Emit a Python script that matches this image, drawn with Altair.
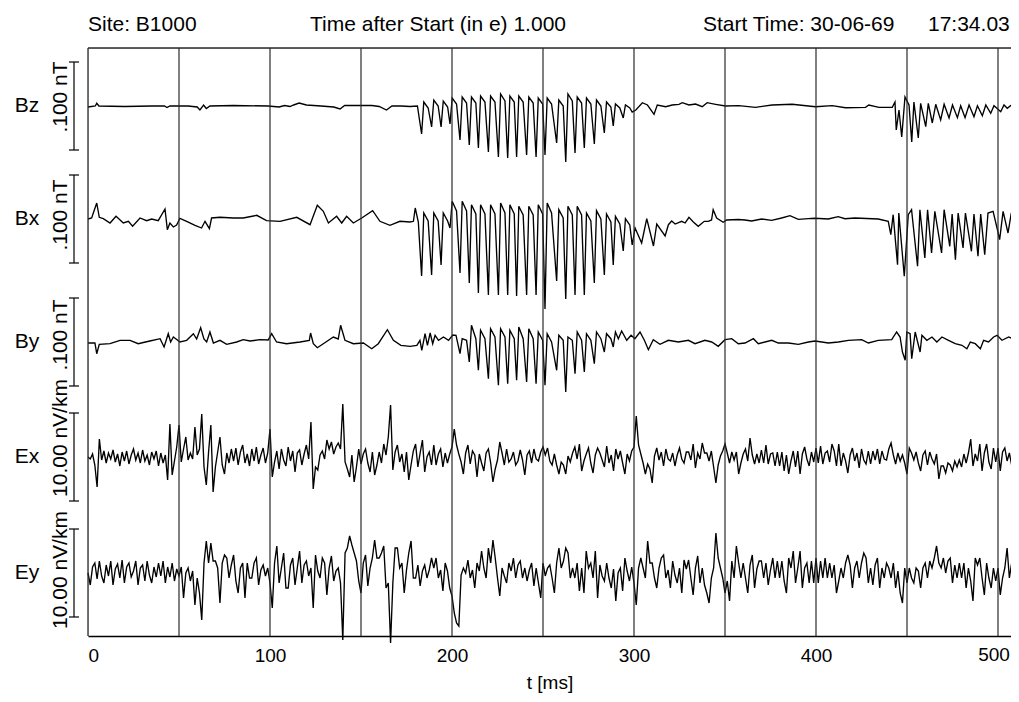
import altair as alt
import pandas as pd

# ---------------- text content ----------------
header_texts = ["Site: B1000", "Time after Start (in e) 1.000", "Start Time: 30-06-69", "17:34.03"]
channels = ["Bz", "Bx", "By", "Ex", "Ey"]
scale_texts = [".100 nT", ".100 nT", ".100 nT", "10.00 nV/km", "10.00 nV/km"]
x_title = "t [ms]"
tick_t = [0, 100, 200, 300, 400, 500]
grid_t = [50, 100, 150, 200, 250, 300, 350, 400, 450, 500]

# ---------------- magnetic channels: (t [ms], deflection) ----------------
bz = [(0,-1),(4,0),(4.8,2.7),(6,0),(20,-0.5),(35,0),(42,0),(43.4,-1.5),(45,0),(55,0),(60,-1),(61.5,-4),(63.5,1),
      (65,-2.5),(67,0),(80,0.5),(99,0),(105,-1),(108,0.5),(111,-0.5),(113,1),(116,3),(120,1),(128,0),(135,-1),
      (138.5,-3),(141,0.5),(150,0.5),(156,0.5),(160,-0.5),(164,-4),(167,0),(172,0),(177,-0.5),(181,0),
      (183.3,-28),(184.5,4),(186.9,-2),(188.8,-21),(190,6),(192.4,0),(194,-21),(195.2,5),(197.6,-1),
      (198.9,-18),(200.1,8),(202.5,2),(204.4,-34),(205.6,9),(208,3),(209.5,-39),(210.7,9),(213.1,3),
      (214.5,-42),(215.7,10),(218.1,4),(220,-46),(221.2,10),(223.6,4),(225.5,-51),(226.7,12),(229.1,5),
      (230.6,-52),(231.8,10),(234.2,4),(235.5,-51),(236.7,10),(239.1,4),(241,-49),(242.2,9),(244.6,3),
      (246.2,-51),(247.4,8),(249.8,2),(251.1,-49),(252.3,8),(254.7,2),(257.5,-37),(258.7,6),(261.1,0),
      (262.5,-56),(263.7,12),(266.1,5),(267.6,-47),(268.8,9),(271.2,3),(272.7,-42),(273.9,8),(276.3,2),
      (278.2,-38),(279.4,6),(281.8,0),(283.7,-27),(284.9,4),(287.3,-1),(288.6,-20),(289.8,2),(292.2,-2),
      (294.1,-12),(295.3,1),(297.7,-2),(299,-6),(301,-4),(304.6,3.3),(307.4,1),(311,-8.3),(312.8,1),
      (317.4,-0.7),(321,1),(324.7,1.7),(326.5,3.3),(330.2,1),(333.8,2),(337.5,-0.7),(340.2,3.3),(344.8,1.7),
      (350.3,0),(357.6,0.3),(366.7,-1.3),(375.9,1),(386.9,1.7),(399.7,-0.7),(408.9,0.3),(416.2,-1.7),
      (427.2,-1.3),(429,1),(434.6,-1.3),(441.9,-1.3),(443.4,4),(444.1,-24),(445.6,-4),(447.1,-31),(448.9,9),
      (451.1,1),(452.6,-36),(453.8,4),(456.2,-32),(457.5,2.7),(460.3,-20.7),(461.7,2.7),(463.9,-17),
      (465.8,1.7),(468.5,-14),(470.4,1.7),(473.1,-12),(475,1),(477.7,-11.7),(479.5,0.3),(481.9,-11.7),
      (484.1,1),(486.8,-10.7),(488.7,0.3),(491.4,-9.7),(493.3,1),(496,-7.3),(497.8,0.3),(501.5,-5.7),
      (503.3,1),(505.1,-2.3),(506.9,0.3),(508.8,1.7),(512,1.7)]

bx = [(0,0),(2,1),(4.8,16),(6.2,1.7),(8.4,0.3),(12.1,-4),(15.4,2.7),(19.4,-4),(22.2,-2.3),(24.5,-7.3),
      (28.6,1),(32.2,-1.7),(35,0),(38.6,-1.7),(42.3,10),(43.6,-10.7),(45,-4),(46.9,-8),(48.7,-6),(50.5,0.7),
      (54.2,-2.3),(58.8,-6.3),(62.4,-9),(64.3,-2.3),(66.7,-9.7),(67.9,1),(72.5,1.7),(79.9,1),(85.3,1),
      (92.7,3.7),(98.1,-1.7),(105.5,-2.3),(114.7,1.7),(122,-5.7),(126,13.7),(129.3,7.7),(132.1,-4),
      (136.6,2.7),(139.4,-4),(142.1,2.7),(145.8,-4),(150.4,1),(156.4,8.3),(160.4,-2.3),(165.9,-6.3),
      (171.4,-2.3),(176.9,-3),(178.8,-2.3),(179.8,11),(181.5,-3),
      (183.3,-57),(184.5,6),(186.9,-2),(188.8,-56),(190,6),(192.4,-2),(194,-46),(195.2,6),(197.6,-2),
      (198.9,-9),(200.1,17.7),(202.5,8),(204.4,-54),(205.6,17.7),(208,8),(209.5,-64),(210.7,14.3),(213.1,5),
      (214.5,-74),(215.7,14.3),(218.1,5),(220,-76),(221.2,14.3),(223.6,5),(225.5,-76),(226.7,16),(229.1,6),
      (230.6,-76),(231.8,14.3),(234.2,5),(235.5,-77),(236.7,12.7),(239.1,4),(241,-76),(242.2,12.7),(244.6,4),
      (246.2,-76),(247.4,14.3),(249.8,5),(251.1,-90),(252.3,16),(254.7,6),(257.5,-62),(258.7,9.3),(261.1,1),
      (262.5,-80),(263.7,12.7),(266.1,4),(267.6,-76),(268.8,12.7),(271.2,4),(272.7,-76),(273.9,6),(276.3,-2),
      (278.2,-64),(279.4,8.3),(281.8,0),(283.7,-56),(284.9,5),(287.3,-3),(288.6,-46),(289.8,2.7),(292.2,-5),
      (294.1,-32),(295.3,0.3),(297.7,-6),(299,-26),(300.6,-9),(304.2,-24),(307,0.3),(310.7,-27),(312.5,-5),
      (317.1,-17),(318.9,-5.7),(320.7,-2),(322.6,-5),(326.2,-2.3),(328.1,-4),(330.2,1.7),(332.6,-3),
      (335.3,-7.3),(338.6,-2.3),(340.8,-2.3),(342.6,-1),(343.5,9.3),(345.4,1),(349,-3.3),(350.9,-1),
      (357.3,-0.5),(361,-1),(364.6,-2),(370.1,0),(375.6,-1.3),(381.1,1),(385.7,3.3),(390.3,-0.3),
      (395.8,0.3),(399.4,0.7),(406.7,0),(412.2,2.3),(415.9,0.3),(421.4,1),(434.2,0),(439.7,-2.3),
      (441.1,-15.7),(442.4,4.3),(444.8,-45.7),(445.5,6),(448.5,-57.3),(450.7,4.3),(452.5,9.3),(455.8,-47.3),
      (457.1,9.3),(459.8,-39),(461.3,9.3),(463.5,-34),(465.3,7.7),(469,-34),(470.4,9.3),(473.5,-27.3),
      (474.8,5),(476.6,-40.7),(478.1,6),(480.8,-29),(482.1,6),(485.4,-32.3),(486.8,5),(489,-37.3),(490.5,5),
      (492.7,-35.7),(494.5,6),(497.3,7.7),(499.6,-10),(500.9,-20.7),(502.8,7.7),(505.5,-14),(507.3,6),
      (510.1,-14),(512,4.3)]

by = [(0,-1),(3.8,-1),(4.8,-11.7),(6.2,-2.3),(12.1,-1.7),(17.6,1.7),(23.1,1.7),(27.6,-1.7),(30.4,-0.5),(34,1),
      (39.6,3.3),(41.8,-5),(44.1,8.3),(45.4,0),(46.9,5),(49.1,2),(50.5,0),(54.2,1.7),(57.9,8.3),(59.7,3),
      (61.9,14.3),(63.7,3),(65.2,0),(67,10),(68.9,-1),(72.5,1.7),(76.2,-2.3),(81.7,0),(85.3,2.3),(89,1),
      (94.5,2.3),(99,2),(100.9,8.3),(103.6,0),(109.1,-1.7),(116.5,0),(121.6,1.7),(122.3,9),(123.8,-1.7),
      (126,-5.7),(129.3,-1.7),(134.8,5),(137.5,3),(138.8,16.7),(141.2,1.7),(145.8,-1.7),(151.3,-1),
      (155.9,-6.7),(159.5,-1.7),(164.5,12.3),(167.8,1.7),(171.9,-3.3),(177,-4.3),(180.7,-3.3),(182.4,1.7),
      (183.4,-8.3),(185.2,8.3),(186.5,-3.3),(188,9),(189.4,-1.7),(190.7,6.7),(192.6,1.7),(195.3,5),
      (198.1,1.7),(200.4,7),(202.2,6.7),(204.4,-11.7),(205.6,3.3),(208,1.7),(209.5,-20),(210.7,16.7),
      (213.1,3.3),(214.5,-28.3),(215.7,11.7),(218.1,3.3),(220,-36.7),(221.2,13.3),(223.6,5),(225.5,-43.3),
      (226.7,13.3),(229.1,5),(230.6,-41.7),(231.8,11.7),(234.2,3.3),(235.5,-38.3),(236.7,15),(239.1,3.3),
      (241,-40),(242.2,13.3),(244.6,3.3),(246.2,-41.7),(247.4,10),(249.8,1.7),(251.1,-43.3),(252.3,8.3),
      (254.7,0),(257.5,-28.3),(258.7,6.7),(261.1,1.7),(262.5,-50),(263.7,5),(266.1,1.7),(267.6,-31.7),
      (268.8,10),(271.2,1.7),(272.7,-30),(273.9,8.3),(276.3,1.7),(278.2,-21.7),(279.4,10),(281.8,3.3),
      (283.7,-10),(284.9,8.3),(287.3,3.3),(288.6,-5),(289.8,10),(291.4,3.3),(293.2,11),(296,1.7),(298.4,6.7),
      (300.5,3.3),(303.3,10),(305.7,1.7),(307.9,-7.7),(310.6,2.3),(314.3,-2.3),(318.9,1.7),(324.4,0),
      (329.9,1.7),(333.5,-1.7),(339,1.7),(342.7,0),(346.3,-4.3),(350,2.3),(353.7,3.3),(357.3,-1.7),(361,-1),
      (365.6,3.3),(368.3,-1.7),(375.7,1.7),(379.3,-1),(384.8,-1),(390.3,-2.3),(395.8,0),(399.5,1),
      (406.8,-1),(412.3,0),(417.8,1.7),(425.1,2.3),(428.8,-1),(434.2,1.7),(441.6,2.3),(444.3,10),(446.2,5),
      (447.5,-10),(449,-18.3),(449.9,10),(451.7,8.3),(452.6,-16.7),(454.5,10),(457.2,-10),(458.2,6.7),
      (460.9,1.7),(463.7,5),(466.4,0),(469.2,5),(472.8,1.7),(476.5,-1.7),(480.2,-3.3),(482.9,-6.7),
      (484.8,0),(487.5,-1.7),(490.3,-6.7),(492.1,1.7),(494.8,0),(497.6,5),(499.5,6.7),(502.2,1.7),
      (505.9,5),(509.6,1.7),(512,1.7)]

# ---------------- electric channels: one row per 10 ms, samples every 1.25 ms ----------------
E_ROW_MS = 10
E_DT = 1.25
ex_rows = [
    [0,-2,3,-8,-30,18,-3,6], [-6,4,-2,7,-5,3,-9,5], [-4,6,-7,2,8,-3,4,-6], [7,-4,2,-8,5,-2,6,-9],
    [4,-6,2,-23,33,-18,-4,10], [32,-5,8,20,-3,4,-2,30], [2,8,43,-10,-28,5,32,-35], [-10,5,20,-8,-17,4,-6,8],
    [-4,9,-8,5,12,-6,3,-9], [8,-4,10,-7,2,9,-6,4], [28,-20,-5,6,-12,8,-3,-9], [10,-4,6,-15,4,7,-8,3],
    [12,-2,35,-32,-10,-13,2,6], [-2,17,8,15,3,10,14,8], [53,-5,-12,-20,2,-25,-10,8], [-7,3,8,-6,-15,5,-18,-8],
    [5,-6,13,2,20,52,-13,5], [12,-5,3,-15,5,-23,-8,6], [13,-10,4,17,-15,0,5,-8], [12,-8,3,8,-10,4,-6,3],
    [10,28,12,3,-5,-17,4,12], [-7,6,2,-20,3,-6,-14,4], [8,-6,-25,-12,-3,15,4,-8], [8,-5,-2,5,-8,-4,7,-3],
    [-18,2,6,-6,8,-2,-4,5], [10,2,9,-4,-8,3,-8,-17], [-5,-8,-17,1,-5,4,10,-2], [13,-14,-4,3,9,-6,-16,2],
    [9,4,-3,-10,11,-6,2,-14], [8,-2,6,-6,-17,3,-4,6], [10,41,12,3,-6,-17,-7,-12], [-26,1,9,-3,5,-9,8,-2],
    [-4,4,-9,2,9,-2,-6,5], [5,-3,13,-11,4,-2,14,4], [4,-4,6,-10,-26,-8,1,6], [13,4,-6,5,-3,5,-17,-6],
    [3,8,-4,19,2,-7,3,-6], [7,-6,12,-7,3,4,-9,5], [-9,5,-14,2,-17,-4,6,-10], [6,-17,3,10,-2,-9,5,-5],
    [9,-6,11,-7,4,6,-5,13], [6,-9,13,-9,4,-4,-16,2], [9,-4,4,-11,8,-3,-7,6], [-7,6,-3,8,-7,6,-2,-3],
    [8,14,2,-7,4,-4,2,-6], [-17,9,4,-3,5,-6,-14,2], [6,-8,5,-2,-7,3,-22,-9], [-9,-16,-6,-8,-14,-4,-10,-3],
    [-10,3,-6,4,18,-9,3,-4], [13,-14,4,13,-5,-12,9,-5], [9,-14,5,9,-4,4,-8,-2], [1,2],
]
ey_rows = [
    [0,-12,6,10,-6,12,-3,-10], [8,-3,12,-12,4,9,-5,13], [-10,6,10,-4,2,12,-12,5], [8,-8,12,-2,-10,6,-4,10],
    [-3,12,-10,6,-4,10,-8,4], [-3,6,-25,0,5,-8,2,-32], [-5,-20,-47,10,32,10,30,12], [12,5,-30,10,18,15,-5,8],
    [18,-8,-20,5,10,-25,10,-5], [-5,10,15,-12,3,8,-3,5], [-10,-35,10,27,-10,5,20,-15], [-15,8,15,-12,5,22,-10,8],
    [12,-3,5,-35,18,2,-5,15], [10,-22,5,17,-8,2,5,-10], [-67,20,25,37,28,20,12,-8], [-20,10,18,-13,5,15,33,15],
    [15,20,27,-15,-10,-70,-10,25], [25,5,10,-20,3,20,32,-5], [-5,8,-13,2,8,-5,3,15], [5,15,-5,3,-18,10,2,-15],
    [-23,-40,-50,-53,-2,5,0,13], [-5,3,-15,10,2,22,5,-5], [25,10,33,15,-5,-23,5,-3], [-10,10,2,15,-5,8,12,-5],
    [5,-8,3,10,-13,5,-10,-25], [10,-3,5,8,-5,-20,10,25], [5,12,25,20,-5,5,-5,10], [-18,5,-20,22,5,10,-5,22],
    [-25,8,-3,-8,10,-5,-15,4], [-28,0,5,-18,15,2,-8,6], [-10,-32,5,15,5,-5,32,10], [10,-5,-15,5,15,18,-5,3],
    [-15,12,-2,-10,5,-20,13,4], [13,-5,-22,5,17,-10,5,-12], [-20,-30,-5,5,40,15,5,-5], [-20,-8,-28,12,-5,27,10,-5],
    [10,-5,-20,8,18,-15,4,12], [12,-5,10,-12,3,15,-5,12], [-5,12,-8,-20,15,5,22,-10], [5,22,-15,5,10,-10,12,-10],
    [15,-10,12,-5,15,-5,10,-5], [8,-20,-8,5,-5,10,18,8], [-15,5,12,-5,10,20,15,-10], [5,-12,8,15,-15,5,-5,10],
    [5,-5,10,-15,2,-20,-30,5], [-10,5,-5,-10,5,2,-15,5], [10,-5,12,5,15,27,10,5], [15,0,12,15,-10,8,-5,10],
    [-5,10,-15,5,-8,-28,15,8], [15,-5,-22,10,-5,-15,5,-8], [5,-22,-5,5,25,-5,10,-8], [5,0],
]

# ---------------- layout ----------------
W, H = 923, 588
PX_PER_MS = 1.82
T_MAX = W / PX_PER_MS
BASE = {"Bz": 530, "Bx": 417, "By": 294, "Ex": 179, "Ey": 63}   # trace zero lines (y-scale units)
BAR_HALF = 44                                                    # half length of each scale bar
SCALE_TEXT_SHIFT = {"Bz": 9, "Bx": 4, "By": 7, "Ex": 19, "Ey": 3}
FONT = "Liberation Sans"

rows = []
for name, pairs in (("Bz", bz), ("Bx", bx), ("By", by)):
    for t, v in pairs:
        rows.append({"channel": name, "t": t, "y": BASE[name] + v})
for name, erows in (("Ex", ex_rows), ("Ey", ey_rows)):
    for r, vals in enumerate(erows):
        for j, v in enumerate(vals):
            rows.append({"channel": name, "t": r * E_ROW_MS + j * E_DT, "y": BASE[name] + v})
traces = pd.DataFrame(rows)

labels = pd.DataFrame({
    "channel": channels,
    "scale": scale_texts,
    "base": [BASE[c] for c in channels],
    "stext": [BASE[c] + SCALE_TEXT_SHIFT[c] for c in channels],
    "lo": [BASE[c] - BAR_HALF for c in channels],
    "hi": [BASE[c] + BAR_HALF for c in channels],
})

xs = alt.Scale(domain=[0, T_MAX], nice=False, zero=False)
ys = alt.Scale(domain=[0, H], nice=False, zero=False)
x_axis = alt.Axis(values=tick_t, format="d", grid=False, domainColor="black", domainWidth=1.3,
                  ticks=False, labelFontSize=19, labelColor="black", labelPadding=10,
                  labelExpr="datum.value == 500 ? '' : datum.label",
                  labelFont=FONT, titleFont=FONT, titleFontSize=19, titleFontWeight="normal",
                  titleColor="black", titlePadding=8)

lines = alt.Chart(traces).mark_line(color="black", strokeWidth=1.35, clip=False).encode(
    x=alt.X("t:Q", scale=xs, title=x_title, axis=x_axis),
    y=alt.Y("y:Q", scale=ys, axis=None),
    detail="channel:N",
)

grid = alt.Chart(pd.DataFrame({"t": grid_t})).mark_rule(color="#2a2a2a", strokeWidth=1.2).encode(
    x=alt.X("t:Q", scale=xs, title=x_title, axis=x_axis), y=alt.value(0), y2=alt.value(H))

# last tick label kept inside the picture (it sits at the right edge)
last_label = alt.Chart(pd.DataFrame({"t": [tick_t[-1]], "lab": [str(tick_t[-1])]})).mark_text(
    font=FONT, fontSize=19, color="black", align="center", baseline="top", dx=-4).encode(
    x=alt.X("t:Q", scale=xs, title=x_title, axis=x_axis), y=alt.value(H + 10), text="lab:N")

frame_left = alt.Chart(alt.Data(values=[{}])).mark_rule(color="#2a2a2a", strokeWidth=1.3).encode(
    x=alt.value(0), y=alt.value(0), y2=alt.value(H))
frame_top = alt.Chart(alt.Data(values=[{}])).mark_rule(color="#2a2a2a", strokeWidth=1.3).encode(
    x=alt.value(0), x2=alt.value(W), y=alt.value(0))

bar_base = alt.Chart(labels)
bars = bar_base.mark_rule(color="black", strokeWidth=1.2).encode(
    x=alt.value(-14), y=alt.Y("lo:Q", scale=ys, axis=None), y2="hi:Q")
serif_lo = bar_base.mark_rule(color="black", strokeWidth=1.2).encode(
    x=alt.value(-19), x2=alt.value(-9), y=alt.Y("lo:Q", scale=ys, axis=None))
serif_hi = bar_base.mark_rule(color="black", strokeWidth=1.2).encode(
    x=alt.value(-19), x2=alt.value(-9), y=alt.Y("hi:Q", scale=ys, axis=None))

chan_text = bar_base.mark_text(font=FONT, fontSize=21, color="black", align="center", baseline="middle").encode(
    x=alt.value(-61), y=alt.Y("base:Q", scale=ys, axis=None), text="channel:N")
scale_text = bar_base.mark_text(font=FONT, fontSize=21, color="black", align="center", baseline="middle",
                                angle=270).encode(
    x=alt.value(-27), y=alt.Y("stext:Q", scale=ys, axis=None), text="scale:N")

header_x = [0, 222, 615, 840]
header = alt.Chart(pd.DataFrame({"txt": header_texts, "hx": header_x})).mark_text(
    font=FONT, fontSize=21, color="black", align="left", baseline="middle").encode(
    x=alt.X("hx:Q", scale=None), y=alt.value(-23), text="txt:N")

chart = alt.layer(lines, grid, last_label, frame_left, frame_top, bars, serif_lo, serif_hi,
                  chan_text, scale_text, header).properties(
    width=W, height=H,
    autosize=alt.AutoSizeParams(type="none"),
    padding={"left": 80, "top": 40, "right": 0, "bottom": 58},
).configure_view(stroke=None).configure(font=FONT, background="white")

chart.save("out.html", embed_options={"renderer": "svg", "actions": False})
